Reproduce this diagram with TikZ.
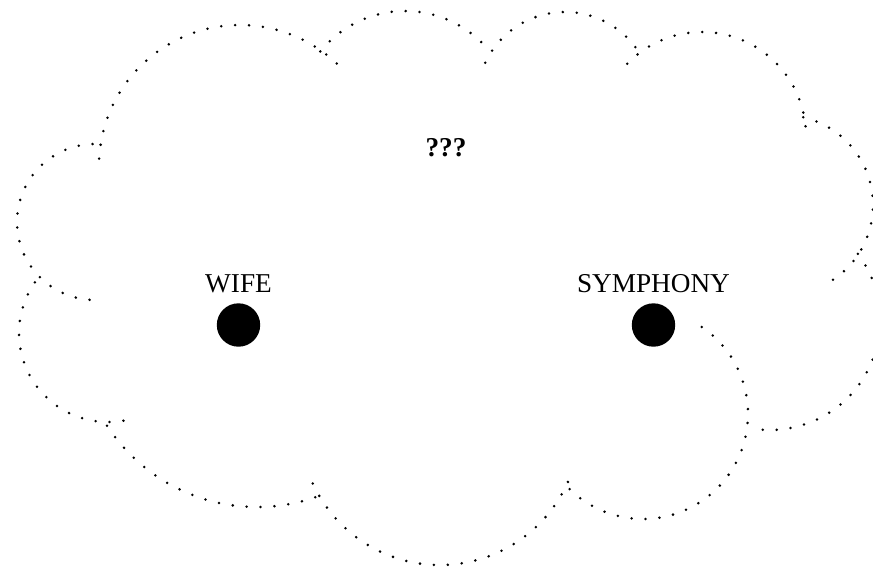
\documentclass[tikz,border=0pt]{standalone}
\usepackage{fontspec}
\setmainfont{Liberation Serif}
\usetikzlibrary{positioning}

\begin{document}
\begin{tikzpicture}[x=0.02cm, y=-0.02cm,
		puff/.style={line width=1.6pt, line cap=round, dash pattern=on 0pt off 7.94pt},
		blob/.style={circle, fill, inner sep=0pt, minimum size=0.868cm},
		lbl/.style={inner sep=0pt, font=\fontsize{15.5}{18}\selectfont}]
		\clip (0, 0) rectangle (873, 569);
		\draw [puff] ([shift={(183:141)}]240, 166) arc [start angle=183, end angle=317, radius=141];
		\draw [puff] ([shift={(219:109)}]405, 120) arc [start angle=219, end angle=321, radius=109];
		\draw [puff] ([shift={(205:88)}]565, 100) arc [start angle=205, end angle=328, radius=88];
		\draw [puff] ([shift={(224:104)}]702, 136) arc [start angle=224, end angle=358, radius=104];
		\draw [puff] ([shift={(-77:90)}]783, 205) arc [start angle=-77, end angle=60, radius=90];
		\draw [puff] ([shift={(-37:110)}]770, 320) arc [start angle=-37, end angle=101, radius=110];
		\draw [puff] ([shift={(-56:105)}]643, 414) arc [start angle=-56, end angle=138, radius=105];
		\draw [puff] ([shift={(24:140)}]440, 425) arc [start angle=24, end angle=157, radius=140];
		\draw [puff] ([shift={(71:179)}]257, 328) arc [start angle=71, end angle=148, radius=179];
		\draw [puff] ([shift={(80:89)}]108, 333) arc [start angle=80, end angle=220, radius=89];
		\draw [puff] ([shift={(94:78)}]95, 222) arc [start angle=94, end angle=276, radius=78];
		\node [blob] (wife) at (238.5, 325) {};
		\node [blob] (symphony) at (653.5, 325) {};
		\node [lbl, above=5.7pt of wife] (wifelbl) {WIFE};
		\node [lbl, above=5.7pt of symphony] (symphonylbl) {SYMPHONY};
		\node [lbl] (unknown) at (446, 148) {\textbf{???}};
	\end{tikzpicture}
\end{document}
